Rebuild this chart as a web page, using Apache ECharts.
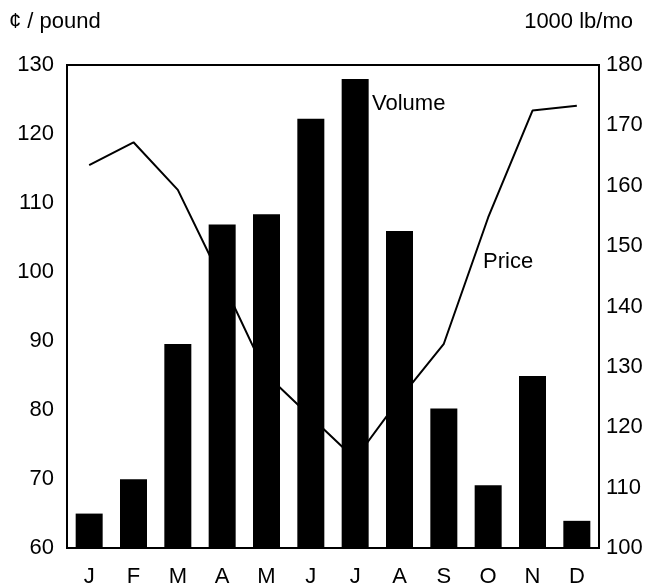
<!DOCTYPE html>
<html>
<head>
<meta charset="utf-8">
<script src="https://cdn.jsdelivr.net/npm/echarts@6/dist/echarts.min.js"></script>
<style>
  html, body { margin: 0; padding: 0; background: #fff; }
  #chart { width: 646px; height: 587px; }
</style>
</head>
<body>
<div id="chart"></div>
<script>
// months
const months = ['J', 'F', 'M', 'A', 'M', 'J', 'J', 'A', 'S', 'O', 'N', 'D'];
// volume, 1000 lb/mo (right axis, bars)
const volume = [105.7, 111.4, 133.8, 153.6, 155.3, 171.1, 177.7, 152.5, 123.1, 110.4, 128.5, 104.5];
// price, cents per pound (left axis, line)
const price = [115.5, 118.8, 111.9, 98.7, 85.1, 79.0, 72.9, 81.6, 89.6, 107.9, 123.4, 124.1];

const leftTicks = { min: 60, max: 130, interval: 10 };
const rightTicks = { min: 100, max: 180, interval: 10 };

const font = 'Liberation Sans, Arial, sans-serif';
const fs = 22;

const chart = echarts.init(document.getElementById('chart'));

const option = {
  backgroundColor: '#fff',
  animation: false,
  grid: {
    left: 67, right: 47, top: 65, bottom: 39,
    outerBoundsMode: 'none',
    containLabel: false,
    show: true,
    borderColor: '#000',
    borderWidth: 2
  },
  xAxis: {
    type: 'category',
    data: months,
    axisLine: { show: true, lineStyle: { color: '#000', width: 2 } },
    axisTick: { show: false },
    axisLabel: { color: '#000', fontSize: fs, fontFamily: font, margin: 18 },
    splitLine: { show: false }
  },
  yAxis: [
    {
      type: 'value',
      position: 'left',
      min: leftTicks.min,
      max: leftTicks.max,
      interval: leftTicks.interval,
      axisLine: { show: true, lineStyle: { color: '#000', width: 2 } },
      axisTick: { show: false },
      axisLabel: { color: '#000', fontSize: fs, fontFamily: font, margin: 13 },
      splitLine: { show: false }
    },
    {
      type: 'value',
      position: 'right',
      min: rightTicks.min,
      max: rightTicks.max,
      interval: rightTicks.interval,
      axisLine: { show: true, lineStyle: { color: '#000', width: 2 } },
      axisTick: { show: false },
      axisLabel: { color: '#000', fontSize: fs, fontFamily: font, margin: 7 },
      splitLine: { show: false }
    }
  ],
  series: [
    {
      name: 'Price',
      type: 'line',
      yAxisIndex: 0,
      data: price,
      symbol: 'none',
      z: 1,
      lineStyle: { color: '#000', width: 2 }
    },
    {
      name: 'Volume',
      type: 'bar',
      yAxisIndex: 1,
      data: volume,
      barWidth: 27,
      z: 3,
      itemStyle: { color: '#000' }
    }
  ],
  graphic: [
    { type: 'text', left: 9, top: 11, style: { text: '¢ / pound', fill: '#000', font: fs + 'px ' + font } },
    { type: 'text', right: 13, top: 11, style: { text: '1000 lb/mo', fill: '#000', font: fs + 'px ' + font } },
    { type: 'text', left: 372, top: 93, z: 10, style: { text: 'Volume', fill: '#000', font: fs + 'px ' + font } },
    { type: 'text', left: 483, top: 251, z: 10, style: { text: 'Price', fill: '#000', font: fs + 'px ' + font } }
  ]
};

chart.setOption(option);
</script>
</body>
</html>
